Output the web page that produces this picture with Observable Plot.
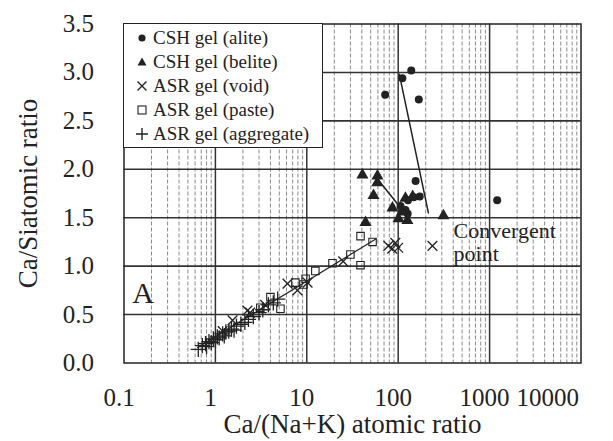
<!DOCTYPE html>
<html><head><meta charset="utf-8">
<script src="https://cdn.jsdelivr.net/npm/d3@7"></script>
<script src="https://cdn.jsdelivr.net/npm/@observablehq/plot@0.6"></script>
<style>
body{margin:0;background:#fff;}
#wrap{position:relative;width:613px;height:441px;font-family:"Liberation Serif","Times New Roman",serif;}
#legend{position:absolute;left:123px;top:23px;width:198px;height:123px;background:#fff;border:1.5px solid #222;}
.row{position:absolute;left:0;height:24px;display:flex;align-items:center;font-size:19px;color:#222;white-space:nowrap;}
.row svg{width:14px;height:14px;margin-left:11px;margin-right:4px;}
</style></head>
<body><div id="wrap"></div>
<script>
// CSH gel (alite)
const aliteX = [72, 111, 139, 168, 155, 1210, 106, 128, 148, 172, 127, 120];
const aliteY = [2.77, 2.94, 3.02, 2.72, 1.88, 1.68, 1.62, 1.68, 1.71, 1.72, 1.54, 1.58];
// CSH gel (belite)
const beliteX = [40.6, 59.3, 59, 53.7, 43.9, 86.5, 100.7, 120, 144, 126, 313, 110];
const beliteY = [1.94, 1.93, 1.86, 1.73, 1.45, 1.60, 1.49, 1.70, 1.72, 1.47, 1.52, 1.56];
// ASR gel (void)
const voidX = [1.2, 1.54, 2.24, 2.4, 3.5, 6.15, 7.9, 10.2, 25, 78, 86, 93, 100, 237];
const voidY = [0.33, 0.44, 0.54, 0.52, 0.6, 0.82, 0.75, 0.83, 1.05, 1.21, 1.18, 1.24, 1.19, 1.21];
// ASR gel (paste)
const pasteX = [38.7, 52.4, 30, 38.7, 19.1, 12.4, 9.7, 7.5, 9.2, 5.15, 4.0, 3.1];
const pasteY = [1.31, 1.25, 1.12, 1.01, 1.03, 0.95, 0.87, 0.83, 0.81, 0.56, 0.68, 0.57];
// ASR gel (aggregate)
const aggX = [0.65, 0.72, 0.78, 0.8, 0.85, 0.9, 0.95, 1.0, 1.05, 1.1, 1.2, 1.25, 1.3, 1.4, 1.5, 1.6, 1.7, 1.9, 2.1, 2.3, 2.6, 3.0, 3.3, 3.8, 4.3, 4.8];
const aggY = [0.14, 0.18, 0.2, 0.17, 0.22, 0.21, 0.25, 0.24, 0.27, 0.26, 0.3, 0.28, 0.32, 0.33, 0.35, 0.34, 0.38, 0.4, 0.42, 0.45, 0.48, 0.52, 0.55, 0.6, 0.62, 0.66];
// fitted lines
const aliteLineX = [103, 214], aliteLineY = [2.98, 1.55];
const beliteLineX = [57, 125], beliteLineY = [1.92, 1.52];
const asrLineX = [0.64, 57], asrLineY = [0.16, 1.28];
// ticks
const xTicks = [0.1, 1, 10, 100, 1000, 10000];
const xTickLabels = ["0.1", "1", "10", "100", "1000", "10000"];
const yTicks = [0, 0.5, 1.0, 1.5, 2.0, 2.5, 3.0, 3.5];
const yTickLabels = ["0.0", "0.5", "1.0", "1.5", "2.0", "2.5", "3.0", "3.5"];
const seriesNames = ["CSH gel (alite)", "CSH gel (belite)", "ASR gel (void)", "ASR gel (paste)", "ASR gel (aggregate)"];

const pts = (xs, ys) => xs.map((x, i) => ({x, y: ys[i]}));
const minor = [];
for (const d of [0.1, 1, 10, 100, 1000]) for (let k = 2; k <= 9; k++) minor.push(d * k);
const majorX = xTicks.slice(1, -1);
const majorY = yTicks.slice(1, -1);
const ink = "#222";
const font = "Liberation Serif, Times New Roman, serif";
const xLab = xTicks.map((v, i) => ({v, t: xTickLabels[i]}));
const yLab = yTicks.map((v, i) => ({v, t: yTickLabels[i]}));

const chart = Plot.plot({
  width: 613, height: 441,
  marginLeft: 123.5, marginRight: 32.5, marginTop: 23.5, marginBottom: 78.5,
  x: {type: "log", domain: [0.1, 10000], axis: null},
  y: {domain: [0, 3.5], axis: null},
  style: {fontFamily: font, background: "white", color: ink},
  marks: [
    Plot.ruleX(minor, {stroke: "#8a8a8a", strokeWidth: 1, strokeDasharray: "4,2"}),
    Plot.ruleX(majorX, {stroke: "#333", strokeWidth: 1.5}),
    Plot.ruleY(majorY, {stroke: "#333", strokeWidth: 1.6}),
    Plot.frame({stroke: ink, strokeWidth: 1.5}),
    Plot.line(pts(aliteLineX, aliteLineY), {x: "x", y: "y", stroke: ink, strokeWidth: 1.5}),
    Plot.line(pts(beliteLineX, beliteLineY), {x: "x", y: "y", stroke: ink, strokeWidth: 1.5}),
    Plot.line(pts(asrLineX, asrLineY), {x: "x", y: "y", stroke: ink, strokeWidth: 1.2}),
    Plot.dot(pts(aggX, aggY), {x: "x", y: "y", symbol: "plus", r: 5, stroke: ink, strokeWidth: 1.3}),
    Plot.dot(pts(pasteX, pasteY), {x: "x", y: "y", symbol: "square", r: 4.2, stroke: ink, fill: "none", strokeWidth: 1.1}),
    Plot.dot(pts(voidX, voidY), {x: "x", y: "y", symbol: "times", r: 4.5, stroke: ink, strokeWidth: 1.3}),
    Plot.dot(pts(beliteX, beliteY), {x: "x", y: "y", symbol: "triangle", r: 4.5, fill: ink, stroke: "none"}),
    Plot.dot(pts(aliteX, aliteY), {x: "x", y: "y", symbol: "circle", r: 4, fill: ink, stroke: "none"}),
    Plot.text(xLab.slice(0, -1), {x: "v", text: "t", frameAnchor: "bottom", lineAnchor: "middle", textAnchor: "middle", dy: 35, dx: -5, fontSize: 25, fill: ink}),
    Plot.text(xLab.slice(-1), {x: "v", text: "t", frameAnchor: "bottom", lineAnchor: "middle", textAnchor: "end", dy: 35, dx: -2, fontSize: 25, fill: ink}),
    Plot.text(yLab, {y: "v", text: "t", frameAnchor: "left", lineAnchor: "middle", textAnchor: "end", dx: -30, fontSize: 25, fill: ink}),
    Plot.text(["Ca/(Na+K) atomic ratio"], {frameAnchor: "bottom", lineAnchor: "middle", textAnchor: "middle", dy: 61, text: d => d, fontSize: 27, fill: ink}),
    Plot.text(["Ca/Siatomic ratio"], {frameAnchor: "left", lineAnchor: "middle", textAnchor: "middle", dx: -96, rotate: -90, text: d => d, fontSize: 27, fill: ink}),
    Plot.text(["A"], {frameAnchor: "bottom-left", lineAnchor: "middle", textAnchor: "middle", dx: 19, dy: -70, text: d => d, fontSize: 30, fill: ink}),
    Plot.text(["Convergent\npoint"], {x: () => 403, y: () => 1.25, text: d => d, textAnchor: "start", lineAnchor: "middle", fontSize: 22, lineHeight: 1.05, fill: ink})
  ]
});
const wrap = document.getElementById("wrap");
wrap.appendChild(chart);

// legend
const legend = document.createElement("div");
legend.id = "legend";
const sym = [
  '<circle cx="7" cy="7" r="3.6" fill="#222"/>',
  '<path d="M7 2.5 L11.5 10.5 L2.5 10.5 Z" fill="#222"/>',
  '<path d="M2.5 2.5 L11.5 11.5 M11.5 2.5 L2.5 11.5" stroke="#222" stroke-width="1.4"/>',
  '<rect x="3" y="3" width="8" height="8" fill="none" stroke="#222" stroke-width="1.1"/>',
  '<path d="M1 7 L13 7 M7 1 L7 13" stroke="#222" stroke-width="1.4"/>'
];
seriesNames.forEach((name, i) => {
  const row = document.createElement("div");
  row.className = "row";
  row.style.top = (2 + i * 24) + "px";
  row.innerHTML = '<svg viewBox="0 0 14 14">' + sym[i] + '</svg><span>' + name + '</span>';
  legend.appendChild(row);
});
wrap.appendChild(legend);
</script>
</body></html>
